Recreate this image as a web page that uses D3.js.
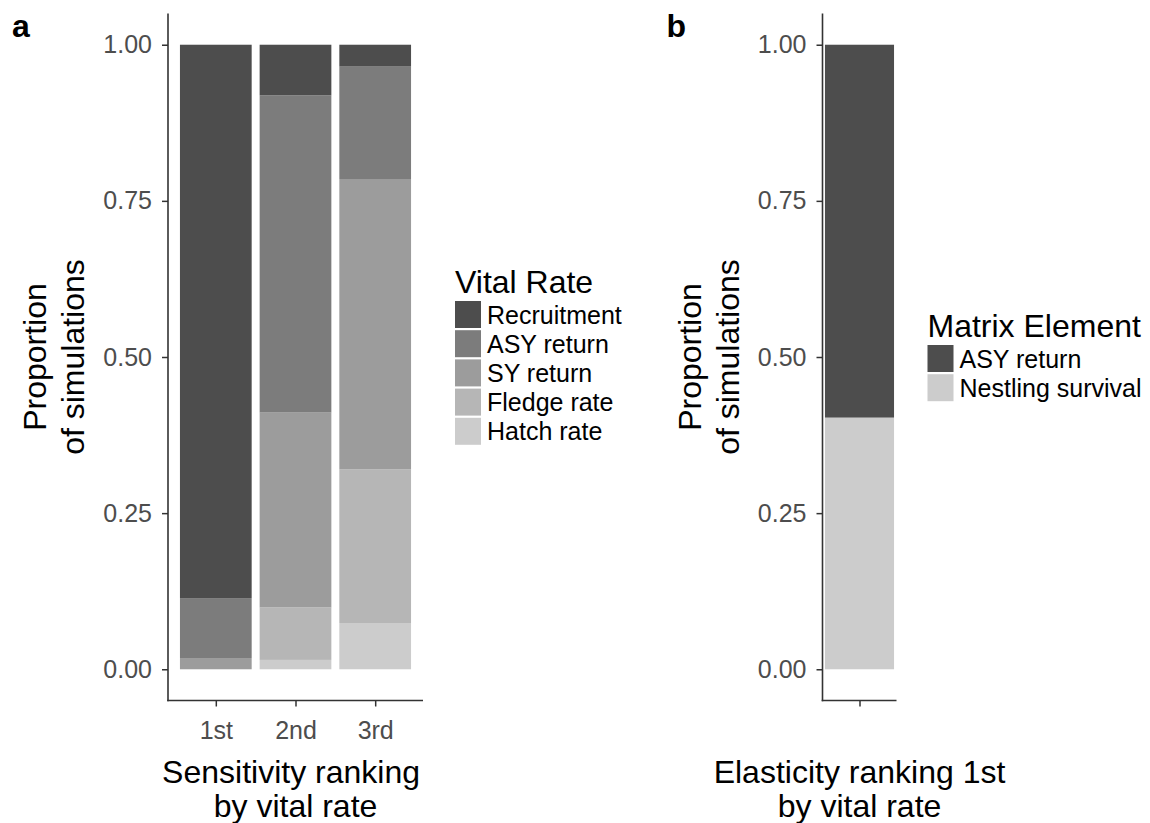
<!DOCTYPE html>
<html>
<head>
<meta charset="utf-8">
<script src="https://cdn.jsdelivr.net/npm/d3@7"></script>
<style>
  body { margin: 0; background: #fff; }
  text { font-family: "Liberation Sans", Arial, sans-serif; }
</style>
</head>
<body>
<script>
// ---- data ----
var rankings = ['1st', '2nd', '3rd'];
var vitalRates = ['Recruitment', 'ASY return', 'SY return', 'Fledge rate', 'Hatch rate'];
var recruitment = [0.886, 0.081, 0.035];
var asyReturn = [0.096, 0.508, 0.180];
var syReturn = [0.018, 0.312, 0.465];
var fledgeRate = [0.000, 0.084, 0.246];
var hatchRate = [0.000, 0.015, 0.074];

var elasticityRank = ['1st'];
var matrixElements = ['ASY return', 'Nestling survival'];
var asyElast = [0.597];
var nestlingElast = [0.403];

var yTicks = [0, 0.25, 0.5, 0.75, 1];
var yTickLabels = ['0.00', '0.25', '0.50', '0.75', '1.00'];

var greys5 = ['#4d4d4d', '#7c7c7c', '#9c9c9c', '#b6b6b6', '#cccccc'];
var greys2 = ['#4d4d4d', '#cccccc'];

var width = 1150, height = 823;
var svg = d3.select('body').append('svg')
    .attr('width', width)
    .attr('height', height);

var y = d3.scaleLinear().domain([-0.05, 1.05]).range([700.5, 13.5]);

function draw_panel(opt) {
  var g = svg.append('g').attr('transform', 'translate(' + opt.dx + ',0)');
  var x = d3.scaleLinear()
      .domain([0.4, opt.cats.length + 0.6])
      .range([168, 168 + opt.panelW]);

  var rows = opt.cats.map(function (c, i) {
    var r = { cat: c, idx: i + 1 };
    opt.keys.forEach(function (k, j) { r[k] = opt.series[j][i]; });
    return r;
  });
  // first level on top, like ggplot
  var stack = d3.stack().keys(opt.keys.slice().reverse());
  var layers = stack(rows);
  var color = d3.scaleOrdinal().domain(opt.keys).range(opt.colors);

  g.selectAll('g.layer')
    .data(layers)
    .enter()
    .append('g')
    .attr('class', 'layer')
    .attr('fill', function (d) { return color(d.key); })
    .selectAll('rect')
    .data(function (d) { return d; })
    .enter()
    .append('rect')
    .attr('x', function (d) { return x(d.data.idx - opt.barW / 2); })
    .attr('width', function (d) { return x(d.data.idx + opt.barW / 2) - x(d.data.idx - opt.barW / 2); })
    .attr('y', function (d) { return y(d[1]); })
    .attr('height', function (d) { return y(d[0]) - y(d[1]); });

  // y axis
  var yAxis = d3.axisLeft(y).tickValues(yTicks)
      .tickFormat(function (d, i) { return yTickLabels[i]; })
      .tickSize(6).tickPadding(10);
  var ya = g.append('g').attr('transform', 'translate(168,0)').call(yAxis);
  ya.select('.domain').remove();
  ya.selectAll('.tick line').attr('stroke', '#333').attr('stroke-width', 1.5);
  ya.selectAll('.tick text').attr('fill', '#4d4d4d')
    .style('font-size', '25px').style('font-family', '"Liberation Sans", Arial, sans-serif');
  g.append('line').attr('x1', 168).attr('x2', 168).attr('y1', y(1.05)).attr('y2', y(-0.05) + 0.8)
    .attr('stroke', '#333').attr('stroke-width', 1.6);

  // x axis
  var xAxis = d3.axisBottom(x).tickValues(d3.range(1, opt.cats.length + 1))
      .tickFormat(function (d) { return opt.tickLabels[d - 1]; })
      .tickSize(6).tickPadding(15);
  var xa = g.append('g').attr('transform', 'translate(0,' + y(-0.05) + ')').call(xAxis);
  xa.select('.domain').remove();
  xa.selectAll('.tick line').attr('stroke', '#333').attr('stroke-width', 1.5);
  xa.selectAll('.tick text').attr('fill', '#4d4d4d')
    .style('font-size', '25px').style('font-family', '"Liberation Sans", Arial, sans-serif');
  g.append('line').attr('x1', 167.2).attr('x2', 168 + opt.panelW).attr('y1', y(-0.05)).attr('y2', y(-0.05))
    .attr('stroke', '#333').attr('stroke-width', 1.6);

  // titles
  var cx = 168 + opt.panelW / 2;
  var xt = g.append('text').attr('text-anchor', 'middle').style('font-size', '32px').attr('fill', '#000');
  xt.append('tspan').attr('x', cx).attr('y', 783).text(opt.xTitle[0]);
  xt.append('tspan').attr('x', cx).attr('y', 817).text(opt.xTitle[1]);

  var yt = g.append('text').attr('text-anchor', 'middle').style('font-size', '32px').attr('fill', '#000')
    .attr('transform', 'rotate(-90)');
  yt.append('tspan').attr('x', -357).attr('y', 46).text('Proportion');
  yt.append('tspan').attr('x', -357).attr('y', 84).text('of simulations');

  g.append('text').attr('x', 12).attr('y', 37).style('font-size', '32px').style('font-weight', 'bold')
    .text(opt.label);

  // legend
  var lg = g.append('g').attr('transform', 'translate(' + opt.legX + ',' + opt.legY + ')');
  lg.append('text').attr('x', 0).attr('y', 0).style('font-size', '32px').text(opt.legTitle);
  var item = lg.selectAll('g.item')
    .data(opt.keys)
    .enter()
    .append('g')
    .attr('class', 'item')
    .attr('transform', function (d, i) { return 'translate(0,' + (8 + i * 29.2) + ')'; });
  item.append('rect').attr('width', 26).attr('height', 27).attr('fill', function (d) { return color(d); });
  item.append('text').attr('x', 32).attr('y', 22.5).style('font-size', '25px').text(function (d) { return d; });
}

draw_panel({
  dx: 0, panelW: 255, barW: 0.9, label: 'a',
  cats: rankings, tickLabels: rankings,
  keys: vitalRates, series: [recruitment, asyReturn, syReturn, fledgeRate, hatchRate],
  colors: greys5,
  xTitle: ['Sensitivity ranking ', 'by vital rate'],
  legTitle: 'Vital Rate', legX: 455, legY: 293
});

draw_panel({
  dx: 654.5, panelW: 74, barW: 1.12, label: 'b',
  cats: elasticityRank, tickLabels: [''],
  keys: matrixElements, series: [asyElast, nestlingElast],
  colors: greys2,
  xTitle: ['Elasticity ranking 1st', 'by vital rate'],
  legTitle: 'Matrix Element', legX: 273, legY: 337
});
</script>
</body>
</html>
